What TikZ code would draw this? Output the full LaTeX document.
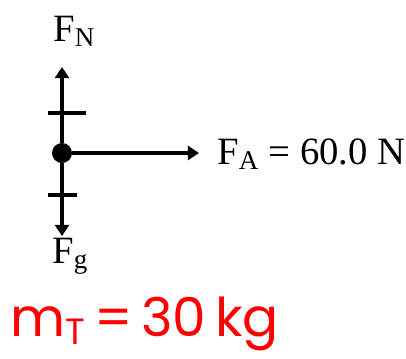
\documentclass[tikz,border=0pt]{standalone}
\usepackage{fontspec}
\usepackage{tikz}
\usetikzlibrary{arrows.meta}
\newfontfamily\serfont{Liberation Serif}
\newfontfamily\handfont{Poppins}
\tikzset{
  force/.style={line width=1.2mm,-{Triangle[length=2.8mm,width=3.5mm]}},
  hatch/.style={line width=1.2mm},
  lbl/.style={font=\serfont\fontsize{27.5}{31}\selectfont,inner sep=0pt,anchor=base west},
}

\begin{document}
\begin{tikzpicture}[x=0.025cm,y=-0.025cm]
  \useasboundingbox (0,0) rectangle (406,358);
  \node[circle,fill=black,inner sep=0pt,minimum size=5mm] (body) at (62,153) {};
  \coordinate (nTip) at (62,67);
  \coordinate (gTip) at (62,236);
  \coordinate (aTip) at (199,153);
  \draw[force] (body) -- (nTip);
  \draw[force] (body) -- (gTip);
  \draw[force] (body) -- (aTip);
  \draw[hatch] (48,113) -- (86,113);
  \draw[hatch] (48,195) -- (77,195);
  \node[lbl] (fN) at (53,41) {F\textsubscript{N}};
  \node[lbl] (fg) at (52,263) {F\textsubscript{g}};
  \node[lbl] (fA) at (217,164) {F\textsubscript{A} = 60.0 N};
  \node[font=\handfont\fontsize{38}{42}\selectfont,text=red,inner sep=0pt,anchor=base west] (mass) at (10,336)
    {m\raisebox{-6pt}{\fontsize{26}{26}\selectfont T}\,=\,30\,kg};
\end{tikzpicture}
\end{document}
